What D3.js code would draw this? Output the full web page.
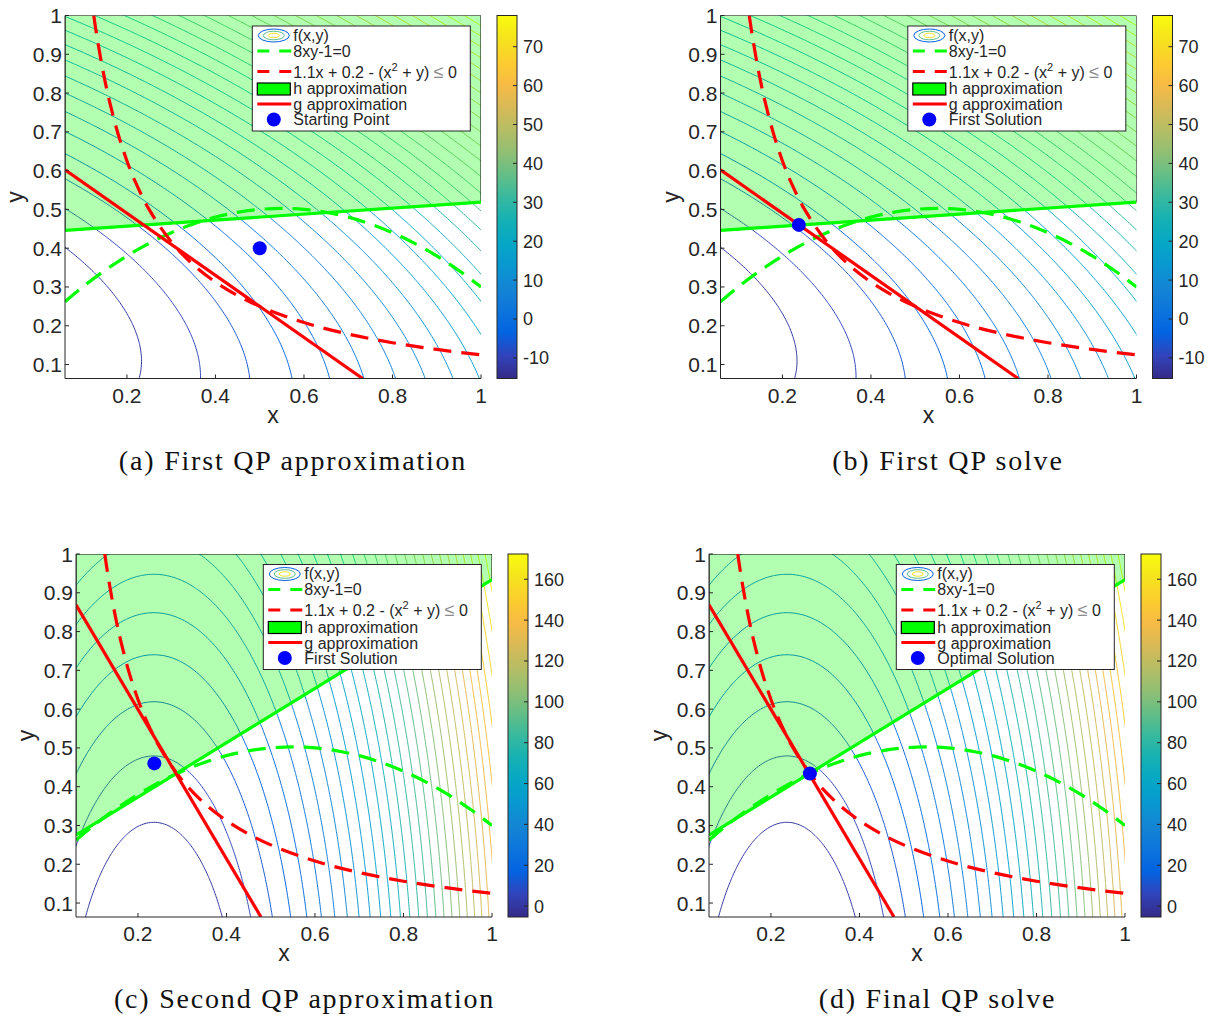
<!DOCTYPE html>
<html>
<head>
<meta charset="utf-8">
<script src="https://cdn.jsdelivr.net/npm/d3@7"></script>
<style>
  body { margin: 0; background: #ffffff; }
  svg { display: block; }
  text { font-family: "Liberation Sans", Arial, Helvetica, sans-serif; fill: #262626; }
  .caption { font-family: "Liberation Serif", "Times New Roman", serif; fill: #111; }
</style>
</head>
<body>
<svg id="fig" width="1210" height="1017"></svg>
<script>
// ---------------- data ----------------
const xDomain = [0.06, 1];
const yDomain = [0.064, 1];
const xTickValues = [0.2, 0.4, 0.6, 0.8, 1];
const yTickValues = [0.1, 0.2, 0.3, 0.4, 0.5, 0.6, 0.7, 0.8, 0.9, 1];
const colorTicksFirst = [-10, 0, 10, 20, 30, 40, 50, 60, 70];
const colorTicksSecond = [0, 20, 40, 60, 80, 100, 120, 140, 160];

// objective surfaces as quadratics about the lower-left corner (0.06, 0.064):
// [c, p, q, A, B, C] -> c + p*u + q*v + A*u^2 + B*v^2 + C*u*v, u = x-0.06, v = y-0.064
const surfaceFirst = [-14.82, 11.5, -10.0, 21.5, 51.6, 30.9];
const surfaceSecond = [2.104, -84.48, 17.58, 240, 24.15, 0];
const contourCount = 30;

// green dashed curve (parabola boundary)
const parabolaX = [0.06, 0.1, 0.15, 0.2, 0.25, 0.3, 0.35, 0.4, 0.45, 0.5, 0.55, 0.6, 0.65, 0.7, 0.75, 0.8, 0.85, 0.9, 0.95, 1.0];
const parabolaY = [0.262, 0.30, 0.3425, 0.38, 0.4125, 0.44, 0.4625, 0.48, 0.4925, 0.50, 0.5025, 0.50, 0.4925, 0.48, 0.4625, 0.44, 0.4125, 0.38, 0.3425, 0.30];
// red dashed curve (hyperbola boundary)
const hyperbolaX = [0.125, 0.13, 0.14, 0.15, 0.16, 0.18, 0.2, 0.22, 0.25, 0.3, 0.35, 0.4, 0.45, 0.5, 0.6, 0.7, 0.8, 0.9, 1.0];
const hyperbolaY = [1.0, 0.9615, 0.8929, 0.8333, 0.7813, 0.6944, 0.625, 0.5682, 0.5, 0.4167, 0.3571, 0.3125, 0.2778, 0.25, 0.2083, 0.1786, 0.1563, 0.1389, 0.125];

// linearised constraints (end points)
const hLineFirst = [[0.06, 0.446], [1, 0.519]];
const gLineFirst = [[0.06, 0.602], [0.7325, 0.064]];
const hLineSecond = [[0.06, 0.275], [1, 0.934]];
const gLineSecond = [[0.06, 0.869], [0.478, 0.064]];

// iterates
const startPoint = [0.5, 0.4];
const firstSolution = [0.237, 0.46];
const optimalSolution = [0.288, 0.434];

const captions = ["(a) First QP approximation", "(b) First QP solve", "(c) Second QP approximation", "(d) Final QP solve"];
const pointNames = ["Starting Point", "First Solution", "First Solution", "Optimal Solution"];

// parula colour map (sampled)
const parulaColors = ["#352a87", "#3243ba", "#0363e1", "#0d75dc", "#1485d4", "#0998d1", "#06a7c6", "#15b1b4",
  "#38b99e", "#65be86", "#92bf73", "#b7bd64", "#d9ba56", "#f8bb44", "#fcce2e", "#f5e41d", "#f9fb0e"];

// ---------------- layout ----------------
const PW = 416, PH = 363;
const panels = [
  { id: "a", left: 65, top: 15.5, surface: surfaceFirst, cbTicks: colorTicksFirst, hLine: hLineFirst, gLine: gLineFirst, point: startPoint, capX: 293, capY: 470 },
  { id: "b", left: 720.5, top: 15.5, surface: surfaceFirst, cbTicks: colorTicksFirst, hLine: hLineFirst, gLine: gLineFirst, point: firstSolution, capX: 948, capY: 470 },
  { id: "c", left: 76, top: 554, surface: surfaceSecond, cbTicks: colorTicksSecond, hLine: hLineSecond, gLine: gLineSecond, point: firstSolution, capX: 304.5, capY: 1008 },
  { id: "d", left: 709, top: 554, surface: surfaceSecond, cbTicks: colorTicksSecond, hLine: hLineSecond, gLine: gLineSecond, point: optimalSolution, capX: 937.5, capY: 1008 }
];

const svg = d3.select("#fig");
const defs = svg.append("defs");

const parulaStops = parulaColors.map((c, i) => i / (parulaColors.length - 1));
const parula = d3.scaleLinear().domain(parulaStops).range(parulaColors).interpolate(d3.interpolateRgb).clamp(true);

// vertical gradient for colour bars
const grad = defs.append("linearGradient").attr("id", "parulaGrad")
  .attr("x1", 0).attr("y1", 1).attr("x2", 0).attr("y2", 0);
parulaColors.forEach((c, i) => grad.append("stop").attr("offset", parulaStops[i]).attr("stop-color", c));

function surfaceFn(s) {
  const [c, p, q, A, B, C] = s;
  return (x, y) => { const u = x - xDomain[0], v = y - yDomain[0]; return c + p * u + q * v + A * u * u + B * v * v + C * u * v; };
}

function drawPanel(p, idx) {
  const left = p.left, top = p.top, right = left + PW, bottom = top + PH;
  const xs = d3.scaleLinear().domain(xDomain).range([left, right]);
  const ys = d3.scaleLinear().domain(yDomain).range([bottom, top]);
  const f = surfaceFn(p.surface);

  defs.append("clipPath").attr("id", "clip-" + p.id)
    .append("rect").attr("x", left).attr("y", top).attr("width", PW).attr("height", PH);
  const g = svg.append("g");
  const plot = g.append("g").attr("clip-path", `url(#clip-${p.id})`);

  // value range over the visible domain
  let zmin = Infinity, zmax = -Infinity;
  const N = 200;
  for (let i = 0; i <= N; i++) {
    for (let j = 0; j <= N; j++) {
      const x = xDomain[0] + (xDomain[1] - xDomain[0]) * i / N;
      const y = yDomain[0] + (yDomain[1] - yDomain[0]) * j / N;
      const z = f(x, y);
      if (z < zmin) zmin = z;
      if (z > zmax) zmax = z;
    }
  }
  const levels = d3.range(1, contourCount + 1).map(k => zmin + (zmax - zmin) * k / (contourCount + 1));
  const colorOf = v => parula((v - zmin) / (zmax - zmin));

  // sampling grid slightly larger than the axes so ring borders fall outside the clip
  const step = 0.004, gx0 = 0.0, gy0 = 0.0;
  const nx = Math.ceil(1.06 / step) + 1, ny = Math.ceil(1.06 / step) + 1;
  const values = new Float64Array(nx * ny);
  for (let j = 0; j < ny; j++) for (let i = 0; i < nx; i++) values[j * nx + i] = f(gx0 + i * step, gy0 + j * step);
  const contours = d3.contours().size([nx, ny]).thresholds(levels)(values);
  const cpath = d3.geoPath(d3.geoTransform({
    point: function (px, py) { this.stream.point(xs(gx0 + (px - 0.5) * step), ys(gy0 + (py - 0.5) * step)); }
  }));
  plot.selectAll("path.contour").data(contours).join("path")
    .attr("class", "contour")
    .attr("d", cpath)
    .attr("fill", "none")
    .attr("stroke", d => colorOf(d.value))
    .attr("stroke-width", 1);

  // feasible half-plane of the linearised constraint
  const region = [p.hLine[0], p.hLine[1], [xDomain[1], yDomain[1]], [xDomain[0], yDomain[1]]];
  plot.append("path")
    .attr("d", "M" + region.map(q => [xs(q[0]), ys(q[1])].join(",")).join("L") + "Z")
    .attr("fill", "#00ff00").attr("fill-opacity", 0.3)
    .attr("stroke", "#000").attr("stroke-width", 1);

  const line = d3.line().x(d => xs(d[0])).y(d => ys(d[1])).curve(d3.curveCatmullRom.alpha(0.5));
  plot.append("path").datum(parabolaX.map((x, i) => [x, parabolaY[i]]))
    .attr("d", line).attr("fill", "none").attr("stroke", "#00ff00").attr("stroke-width", 3.2)
    .attr("stroke-dasharray", "18,10");
  plot.append("path").datum(hyperbolaX.map((x, i) => [x, hyperbolaY[i]]))
    .attr("d", line).attr("fill", "none").attr("stroke", "#ff0000").attr("stroke-width", 3.2)
    .attr("stroke-dasharray", "18,10");

  const straight = d3.line().x(d => xs(d[0])).y(d => ys(d[1]));
  plot.append("path").datum(p.hLine).attr("d", straight)
    .attr("fill", "none").attr("stroke", "#00ff00").attr("stroke-width", 3.2);
  plot.append("path").datum(p.gLine).attr("d", straight)
    .attr("fill", "none").attr("stroke", "#ff0000").attr("stroke-width", 3.2);

  plot.append("circle").attr("cx", xs(p.point[0])).attr("cy", ys(p.point[1])).attr("r", 7)
    .attr("fill", "#0000ff");

  // axes (left and bottom only)
  const axisColor = "#262626";
  g.append("line").attr("x1", left).attr("x2", left).attr("y1", top).attr("y2", bottom)
    .attr("stroke", axisColor).attr("stroke-width", 1);
  g.append("line").attr("x1", left).attr("x2", right).attr("y1", bottom).attr("y2", bottom)
    .attr("stroke", axisColor).attr("stroke-width", 1);
  yTickValues.forEach(v => {
    g.append("line").attr("x1", left).attr("x2", left + 4).attr("y1", ys(v)).attr("y2", ys(v))
      .attr("stroke", axisColor).attr("stroke-width", 1);
    g.append("text").attr("x", left - 3).attr("y", ys(v) + 7.5).attr("text-anchor", "end")
      .attr("font-size", 21).text(d3.format("")(v));
  });
  xTickValues.forEach(v => {
    g.append("line").attr("x1", xs(v)).attr("x2", xs(v)).attr("y1", bottom).attr("y2", bottom - 4)
      .attr("stroke", axisColor).attr("stroke-width", 1);
    g.append("text").attr("x", xs(v)).attr("y", bottom + 24).attr("text-anchor", "middle")
      .attr("font-size", 21).text(d3.format("")(v));
  });
  g.append("text").attr("x", (left + right) / 2).attr("y", bottom + 44).attr("text-anchor", "middle")
    .attr("font-size", 23).text("x");
  g.append("text").attr("transform", `translate(${left - 42},${(top + bottom) / 2}) rotate(-90)`)
    .attr("text-anchor", "middle").attr("font-size", 23).text("y");

  // colour bar
  const cbx = left + 432, cbw = 20;
  const cs = d3.scaleLinear().domain([zmin, zmax]).range([bottom, top]);
  g.append("rect").attr("x", cbx).attr("y", top).attr("width", cbw).attr("height", PH)
    .attr("fill", "url(#parulaGrad)").attr("stroke", axisColor).attr("stroke-width", 1);
  p.cbTicks.forEach(v => {
    g.append("line").attr("x1", cbx + cbw).attr("x2", cbx + cbw - 4).attr("y1", cs(v)).attr("y2", cs(v))
      .attr("stroke", axisColor).attr("stroke-width", 1);
    g.append("text").attr("x", cbx + cbw + 6).attr("y", cs(v) + 6.5).attr("font-size", 18).text(v);
  });

  // legend
  const L = left + 187.3, T = top + 10.5, LW = 218, LH = 105;
  const lg = g.append("g");
  lg.append("rect").attr("x", L).attr("y", T).attr("width", LW).attr("height", LH)
    .attr("fill", "#fff").attr("stroke", "#262626").attr("stroke-width", 1);
  const ix0 = L + 5, ix1 = L + 38, icx = L + 21.5, tx = L + 41;
  // contour icon
  [[15.5, 6.5, 0.12], [10.5, 4.3, 0.55], [5.5, 2.2, 0.93]].forEach(e => {
    lg.append("ellipse").attr("cx", icx).attr("cy", T + 9.5).attr("rx", e[0]).attr("ry", e[1])
      .attr("fill", "none").attr("stroke", parula(e[2])).attr("stroke-width", 1);
  });
  lg.append("line").attr("x1", ix0).attr("x2", ix1 + 1).attr("y1", T + 25).attr("y2", T + 25)
    .attr("stroke", "#00ff00").attr("stroke-width", 3).attr("stroke-dasharray", "12,10");
  lg.append("line").attr("x1", ix0).attr("x2", ix1 + 1).attr("y1", T + 45.5).attr("y2", T + 45.5)
    .attr("stroke", "#ff0000").attr("stroke-width", 3).attr("stroke-dasharray", "12,10");
  lg.append("rect").attr("x", ix0).attr("y", T + 57).attr("width", ix1 - ix0).attr("height", 12)
    .attr("fill", "#00ff00").attr("stroke", "#000").attr("stroke-width", 1.2);
  lg.append("line").attr("x1", ix0).attr("x2", ix1 + 1).attr("y1", T + 78).attr("y2", T + 78)
    .attr("stroke", "#ff0000").attr("stroke-width", 3);
  lg.append("circle").attr("cx", icx).attr("cy", T + 93.5).attr("r", 7).attr("fill", "#0000ff");

  const fs = 16;
  lg.append("text").attr("x", tx).attr("y", T + 14.5).attr("font-size", fs).text("f(x,y)");
  lg.append("text").attr("x", tx).attr("y", T + 30.5).attr("font-size", fs).text("8xy-1=0");
  const t3 = lg.append("text").attr("x", tx).attr("y", T + 51.5).attr("font-size", fs);
  t3.append("tspan").text("1.1x + 0.2 - (x");
  t3.append("tspan").attr("dy", -7).attr("font-size", 11).text("2");
  t3.append("tspan").attr("dy", 7).text(" + y) ");
  t3.append("tspan").style("fill", "#8c8c8c").attr("font-size", 18).text("\u2264");
  t3.append("tspan").text(" 0");
  lg.append("text").attr("x", tx).attr("y", T + 68).attr("font-size", fs).text("h approximation");
  lg.append("text").attr("x", tx).attr("y", T + 84).attr("font-size", fs).text("g approximation");
  lg.append("text").attr("x", tx).attr("y", T + 99).attr("font-size", fs).text(pointNames[idx]);

  // caption
  svg.append("text").attr("class", "caption").attr("x", p.capX).attr("y", p.capY)
    .attr("text-anchor", "middle").attr("font-size", 28).attr("letter-spacing", 1.8)
    .text(captions[idx]);
}

panels.forEach(drawPanel);
</script>
</body>
</html>
